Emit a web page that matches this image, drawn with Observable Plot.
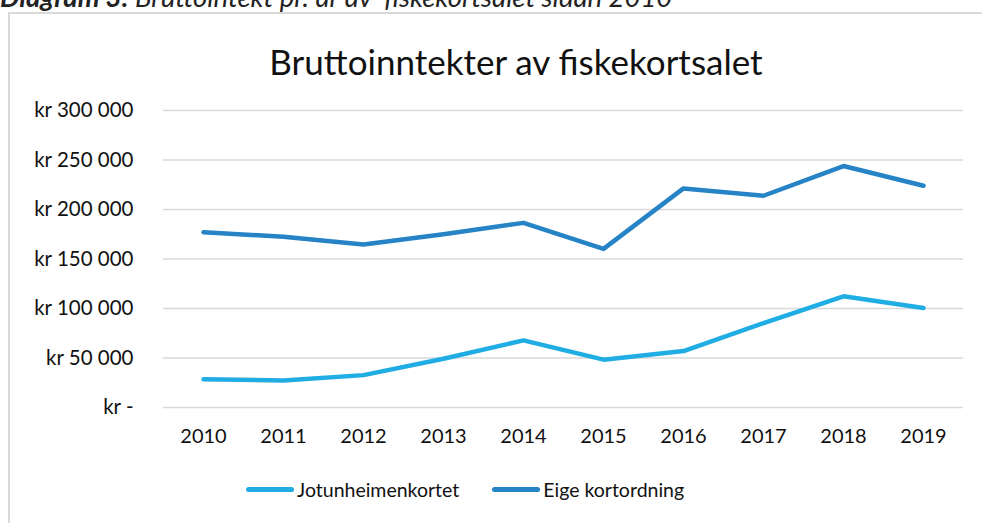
<!DOCTYPE html>
<html>
<head>
<meta charset="utf-8">
<script src="https://cdn.jsdelivr.net/npm/d3@7"></script>
<script src="https://cdn.jsdelivr.net/npm/@observablehq/plot@0.6"></script>
<style>
  html, body { margin: 0; padding: 0; background: #fff; overflow: hidden; }
  body { width: 982px; height: 523px; position: relative; font-family: Lato, "Open Sans", sans-serif; }
  #caption { position: absolute; left: 0; top: -17px; font-size: 27.5px; line-height: 27px; font-style: italic; color: #222; white-space: pre; }
  #caption b { font-weight: 700; }
  #frame { position: absolute; left: 8px; top: 12px; width: 990px; height: 520px; border: 2px solid #d9d9d9; box-sizing: border-box; }
  #title { position: absolute; left: 0; width: 1032px; top: 40px; text-align: center; font-size: 35px; color: #111; }
  #chart { position: absolute; left: 0; top: 0; }
  #legend { position: absolute; top: 478px; left: 246px; display: flex; gap: 33px; font-size: 19.5px; color: #111; }
  .item { display: flex; align-items: center; }
  .sw { display: inline-block; width: 48px; height: 5px; border-radius: 3px; margin-right: 3px; }
</style>
</head>
<body>
<div id="frame"></div>
<div id="caption"><b>Diagram 3:</b> Bruttointekt pr. år av  fiskekortsalet sidan 2010</div>
<div id="title">Bruttoinntekter av fiskekortsalet</div>
<div id="chart"></div>
<div id="legend"></div>
<script>
const years = ["2010","2011","2012","2013","2014","2015","2016","2017","2018","2019"];
const seriesNames = ["Jotunheimenkortet", "Eige kortordning"];
const jotunheimenkortet = [28600, 27300, 32700, 49300, 67800, 48300, 57000, 85300, 112300, 100500];
const eigeKortordning = [177100, 172400, 164700, 175000, 186500, 160200, 221300, 213900, 243900, 224000];
const yTicks = [0, 50000, 100000, 150000, 200000, 250000, 300000];
const colors = ["#1fade4", "#2583c6"];

const data = [];
years.forEach((yr, i) => {
  data.push({year: yr, value: jotunheimenkortet[i], series: seriesNames[0]});
  data.push({year: yr, value: eigeKortordning[i], series: seriesNames[1]});
});

const fmt = v => v === 0 ? "kr -" : "kr " + d3.format(",")(v).replace(/,/g, " ");

const plot = Plot.plot({
  width: 982,
  height: 460,
  marginLeft: 163,
  marginRight: 19,
  marginTop: 110,
  marginBottom: 53,
  style: { fontFamily: "Lato, 'Open Sans', sans-serif", fontSize: "20px", color: "#111", background: "transparent" },
  x: { type: "point", domain: years, padding: 0.5, label: null },
  y: { domain: [0, 300000], label: null },
  color: { domain: seriesNames, range: colors },
  marks: [
    Plot.ruleY(yTicks, { stroke: "#d9d9d9", strokeWidth: 1.5 }),
    Plot.axisY({ ticks: yTicks, tickFormat: fmt, tickSize: 0, tickPadding: 30, label: null, fontSize: 20.5 }),
    Plot.axisX({ tickSize: 0, tickPadding: 21, label: null, fontSize: 20 }),
    Plot.line(data, { x: "year", y: "value", z: "series", stroke: "series", strokeWidth: 4.5, strokeLinecap: "round", strokeLinejoin: "round" })
  ]
});
document.getElementById("chart").appendChild(plot);

const legend = document.getElementById("legend");
seriesNames.forEach((name, i) => {
  const it = document.createElement("div");
  it.className = "item";
  const sw = document.createElement("span");
  sw.className = "sw";
  sw.style.background = colors[i];
  it.appendChild(sw);
  it.appendChild(document.createTextNode(name));
  legend.appendChild(it);
});
</script>
</body>
</html>
